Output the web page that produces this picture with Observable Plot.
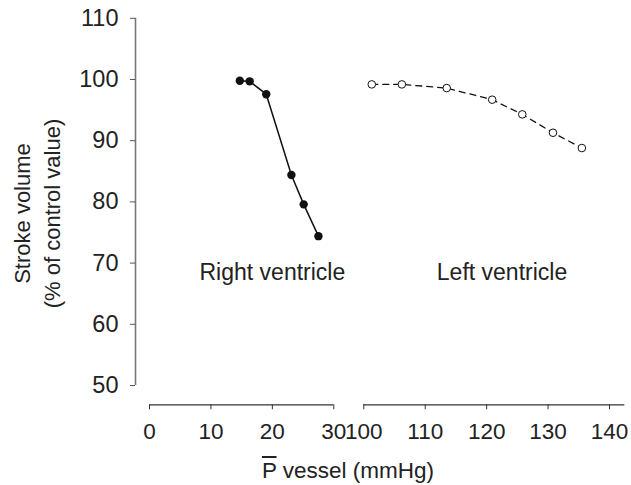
<!DOCTYPE html>
<html>
<head>
<meta charset="utf-8">
<script src="https://cdn.jsdelivr.net/npm/d3@7"></script>
<script src="https://cdn.jsdelivr.net/npm/@observablehq/plot@0.6"></script>
<style>
  html, body { margin: 0; padding: 0; background: #fff; }
  #wrap { position: relative; width: 631px; height: 448px; }
  #wrap svg { position: absolute; left: 0; top: 0; }
  #xtitle {
    position: relative; width: 631px; height: 37px;
    font-family: "Liberation Sans", Arial, sans-serif; font-size: 22.5px; color: #222;
  }
  #xtitle span.t { position: absolute; top: 10px; left: 348px; transform: translateX(-50%); line-height: 25px; white-space: nowrap; }
  #xtitle .ov { text-decoration: overline; text-decoration-thickness: 1.5px; }
</style>
</head>
<body>
<div id="wrap"></div>
<div id="xtitle"><span class="t"><span class="ov">P</span> vessel (mmHg)</span></div>
<script>
// ---- data ----
const rvPressure = [14.7, 16.3, 19.0, 23.1, 25.1, 27.5];
const rvStroke   = [99.8, 99.7, 97.6, 84.4, 79.6, 74.4];
const lvPressure = [101.3, 106.2, 113.5, 120.9, 125.8, 130.8, 135.5];
const lvStroke   = [99.2, 99.2, 98.6, 96.7, 94.3, 91.3, 88.8];

const yTicks = [50, 60, 70, 80, 90, 100, 110];
const leftXTicks = [0, 10, 20, 30];
const rightXTicks = [100, 110, 120, 130, 140];
const yDomain = [50, 110];
const leftDomain = [0, 30];
const rightDomain = [100, 140];
const rightAxisEnd = 142.5;

const panelLabels = [
  {x: 20, y: 68.5, text: "Right ventricle"},
  {x: 122.5, y: 68.5, text: "Left ventricle"}
];
const yTitle = ["Stroke volume", "(% of control value)"];

const rv = rvPressure.map((p, i) => ({p, s: rvStroke[i]}));
const lv = lvPressure.map((p, i) => ({p, s: lvStroke[i]}));

const W = 631, H = 448;
const font = "Liberation Sans, Arial, sans-serif";
const common = {
  width: W, height: H,
  marginTop: 17.8, marginBottom: H - 385,
  style: {background: "transparent", fontFamily: font, fontSize: "22px", color: "#222", overflow: "visible"}
};
const tickFont = 22.5;

const left = Plot.plot({
  ...common,
  marginLeft: 149, marginRight: W - 333.3,
  x: {domain: leftDomain},
  y: {domain: yDomain},
  marks: [
    Plot.ruleX([leftDomain[0]], {y1: yDomain[0], y2: yDomain[1], dx: -14, stroke: "#777", strokeWidth: 1.6}),
    Plot.axisY({ticks: yTicks, tickSize: 5, tickPadding: 12, dx: -14, label: null, stroke: "#555", fontSize: 23.5, fill: "#222"}),
    Plot.ruleY([yDomain[0]], {x1: leftDomain[0], x2: leftDomain[1], dy: 19.3, stroke: "#333", strokeWidth: 1.3}),
    Plot.axisX({ticks: leftXTicks, tickSize: 5, tickPadding: 13, dy: 19.3, label: null, stroke: "#333", fontSize: tickFont, fill: "#222"}),
    Plot.line(rv, {x: "p", y: "s", stroke: "#111", strokeWidth: 1.5}),
    Plot.dot(rv, {x: "p", y: "s", r: 4.2, fill: "#111", stroke: "none"}),
    Plot.text(panelLabels.slice(0, 1), {x: "x", y: "y", text: "text", fontSize: 23, fill: "#222"}),
    Plot.text([yTitle[0]], {frameAnchor: "left", textAnchor: "middle", rotate: -90, dx: -127, dy: 11.6, fontSize: 22, fill: "#222"}),
    Plot.text([yTitle[1]], {frameAnchor: "left", textAnchor: "middle", rotate: -90, dx: -97, dy: 11.6, fontSize: 22, fill: "#222"})
  ]
});

const right = Plot.plot({
  ...common,
  marginLeft: 363.3, marginRight: W - 609,
  x: {domain: rightDomain},
  y: {domain: yDomain, axis: null},
  marks: [
    Plot.ruleY([yDomain[0]], {x1: rightDomain[0], x2: rightAxisEnd, dy: 19.3, stroke: "#333", strokeWidth: 1.3}),
    Plot.axisX({ticks: rightXTicks, tickSize: 5, tickPadding: 13, dy: 19.3, label: null, stroke: "#333", fontSize: tickFont, fill: "#222"}),
    Plot.line(lv, {x: "p", y: "s", stroke: "#111", strokeWidth: 1.3, strokeDasharray: "6,5"}),
    Plot.dot(lv, {x: "p", y: "s", r: 3.8, fill: "white", stroke: "#111", strokeWidth: 1}),
    Plot.text(panelLabels.slice(1), {x: "x", y: "y", text: "text", fontSize: 23, fill: "#222"})
  ]
});

const wrap = document.getElementById("wrap");
wrap.appendChild(left);
wrap.appendChild(right);
</script>
</body>
</html>
